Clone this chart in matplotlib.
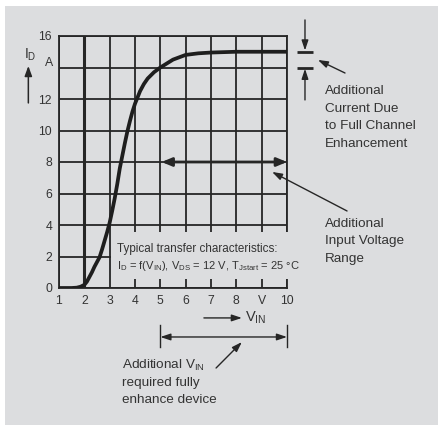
import matplotlib
matplotlib.use("Agg")
import matplotlib.pyplot as plt
from matplotlib.patches import Rectangle

plt.rcParams['font.family'] = ['Liberation Sans', 'DejaVu Sans']
plt.rcParams['mathtext.fontset'] = 'custom'
plt.rcParams['mathtext.rm'] = 'Liberation Sans'

# ---- data ----
vin = [1.0, 1.5, 1.7, 1.85, 2.0, 2.1, 2.2, 2.3, 2.4, 2.5, 2.6, 2.7, 2.8, 2.9, 3.0,
       3.1, 3.2, 3.3, 3.4, 3.5, 3.6, 3.7, 3.8, 3.9, 4.0, 4.1, 4.2, 4.35, 4.5,
       4.75, 5.0, 5.5, 6.0, 6.5, 7.0, 8.0, 9.0, 10.0]
i_d = [0.0, 0.0, 0.02, 0.08, 0.2, 0.4, 0.7, 1.0, 1.35, 1.65, 1.95, 2.45, 3.0, 3.55, 4.15,
       4.9, 5.7, 6.6, 7.6, 8.4, 9.2, 9.95, 10.6, 11.2, 11.7, 12.1, 12.5, 12.95, 13.3,
       13.7, 14.0, 14.5, 14.8, 14.9, 14.95, 15.0, 15.0, 15.0]
x_ticks = [1, 2, 3, 4, 5, 6, 7, 8, 9, 10]
x_ticklabels = ['1', '2', '3', '4', '5', '6', '7', '8', 'V', '10']
y_ticks = [0, 2, 4, 6, 8, 10, 12, 14, 16]
y_ticklabels = ['0', '2', '4', '6', '8', '10', '12', '', '16']

BG = '#dcdddf'
DARK = '#262626'
TXT = '#333333'

W, H = 438, 425
fig = plt.figure(figsize=(W / 100, H / 100), dpi=100)
fig.patch.set_facecolor('white')
fig.patches.append(Rectangle((5 / W, 0), 433 / W, 419 / H, transform=fig.transFigure,
                             facecolor=BG, edgecolor='none', zorder=-10))

ax = fig.add_axes([59 / W, 1 - 288 / H, 228 / W, 252 / H])
ax.set_facecolor('none')
ax.set_xlim(1, 10)
ax.set_ylim(0, 16)
ax.set_xticks(x_ticks)
ax.set_xticklabels(x_ticklabels)
ax.set_yticks(y_ticks)
ax.set_yticklabels(y_ticklabels)
ax.tick_params(length=0, labelsize=8.8, labelcolor=TXT)
ax.tick_params(axis='y', pad=5)
ax.tick_params(axis='x', pad=5)
ax.set_axisbelow(True)
ax.grid(True, color=DARK, lw=1.3)
for s in ax.spines.values():
    s.set_color(DARK)
    s.set_linewidth(1.3)
ax.axvline(2, color=DARK, lw=2.2, zorder=1)

# text box covering grid
ax.add_patch(Rectangle((3.05, 0.6), 7.3, 2.95, facecolor=BG, edgecolor='none',
                       zorder=3, clip_on=False))

ax.plot(vin, i_d, color='#1e1e1e', lw=2.7, zorder=5, solid_joinstyle='round',
        solid_capstyle='butt')

# y label and unit
ax.text(-0.38, 14.54, r'$\mathregular{I_D}$', fontsize=10, color=TXT, ha='left',
        va='baseline', clip_on=False)
ax.text(0.76, 14.1, 'A', fontsize=8.8, color=TXT, ha='right', va='baseline',
        clip_on=False)
ax.annotate('', xy=(-0.21, 14.1), xytext=(-0.21, 11.75), xycoords='data',
            arrowprops=dict(arrowstyle='-|>,head_length=0.6,head_width=0.22', color=DARK,
                            lw=1.1, shrinkA=0, shrinkB=0), annotation_clip=False)

# text box text
ax.text(3.29, 2.31, 'Typical transfer characteristics:', fontsize=8.4, color=TXT,
        ha='left', va='baseline', zorder=6)
ax.text(3.29, 1.19,
        r'$\mathregular{I_D}$ = f($\mathregular{V_{IN}}$), $\mathregular{V_{DS}}$ = 12 V, '
        r'$\mathregular{T_{Jstart}}$ = 25 °C',
        fontsize=8.0, color=TXT, ha='left', va='baseline', zorder=6)

arrow_kw = dict(color=DARK, shrinkA=0, shrinkB=0)

# horizontal double arrow at 8 A
ax.annotate('', xy=(5.05, 8), xytext=(10, 8),
            arrowprops=dict(arrowstyle='<|-|>,head_length=0.6,head_width=0.25', lw=2,
                            **arrow_kw), zorder=4, annotation_clip=False)

# right: current bars
for yb in [15, 14]:
    ax.plot([10.40, 11.03], [yb, yb], color=DARK, lw=2, clip_on=False, solid_capstyle='butt')
ax.annotate('', xy=(10.71, 15.08), xytext=(10.71, 17.02),
            arrowprops=dict(arrowstyle='-|>,head_length=0.6,head_width=0.2', lw=1, **arrow_kw),
            annotation_clip=False)
ax.annotate('', xy=(10.71, 13.92), xytext=(10.71, 11.94),
            arrowprops=dict(arrowstyle='-|>,head_length=0.6,head_width=0.2', lw=1, **arrow_kw),
            annotation_clip=False)
ax.annotate('', xy=(11.22, 14.48), xytext=(12.29, 13.65),
            arrowprops=dict(arrowstyle='-|>,head_length=0.6,head_width=0.2', lw=1, **arrow_kw),
            annotation_clip=False)

lines1 = ['Additional', 'Current Due', 'to Full Channel', 'Enhancement']
for i, t in enumerate(lines1):
    ax.annotate(t, xy=(11.5, 12.3), xytext=(0, -i * 12.6), textcoords='offset points',
                fontsize=9.7, color=TXT, ha='left', va='baseline', annotation_clip=False)

ax.annotate('', xy=(9.41, 7.37), xytext=(12.37, 4.89),
            arrowprops=dict(arrowstyle='-|>,head_length=0.6,head_width=0.2', lw=1, **arrow_kw),
            annotation_clip=False)
lines2 = ['Additional', 'Input Voltage', 'Range']
for i, t in enumerate(lines2):
    ax.annotate(t, xy=(11.5, 3.87), xytext=(0, -i * 12.5), textcoords='offset points',
                fontsize=9.7, color=TXT, ha='left', va='baseline', annotation_clip=False)

# bottom: V_IN arrow
ax.annotate('', xy=(8.22, -1.90), xytext=(6.72, -1.90),
            arrowprops=dict(arrowstyle='-|>,head_length=0.6,head_width=0.2', lw=1, **arrow_kw),
            annotation_clip=False)
ax.text(8.34, -2.16, r'$\mathregular{V_{IN}}$', fontsize=10.5, color=TXT, ha='left',
        va='baseline', clip_on=False)

# bottom double arrow with end bars
ax.annotate('', xy=(5.0, -3.11), xytext=(10.0, -3.11),
            arrowprops=dict(arrowstyle='<|-|>,head_length=0.6,head_width=0.2', lw=1, **arrow_kw),
            annotation_clip=False)
for xb in [5.0, 10.0]:
    ax.plot([xb, xb], [-2.35, -3.75], color=DARK, lw=1, clip_on=False)
ax.annotate('', xy=(8.22, -3.43), xytext=(7.20, -5.08),
            arrowprops=dict(arrowstyle='-|>,head_length=0.6,head_width=0.2', lw=1, **arrow_kw),
            annotation_clip=False)
lines3 = [r'Additional $\mathregular{V_{IN}}$', 'required fully', 'enhance device']
for i, t in enumerate(lines3):
    ax.annotate(t, xy=(3.49, -5.16), xytext=(0, -i * 12.3), textcoords='offset points',
                fontsize=9.7, color=TXT, ha='left', va='baseline', annotation_clip=False)

fig.savefig('out.png', dpi=100, facecolor=fig.get_facecolor())
